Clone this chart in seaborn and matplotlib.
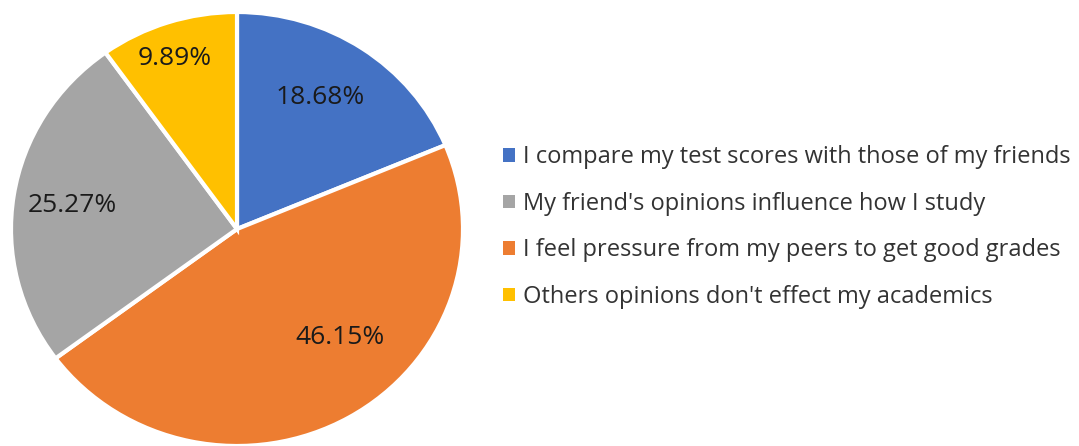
import matplotlib
matplotlib.use("Agg")
import matplotlib.pyplot as plt
from matplotlib.patches import Patch
import seaborn as sns

sns.set_theme(style="white")
plt.rcParams["font.family"] = ["Open Sans", "DejaVu Sans"]

# Survey responses (share of respondents, %)
categories = [
    "I compare my test scores with those of my friends",
    "I feel pressure from my peers to get good grades",
    "My friend's opinions influence how I study",
    "Others opinions don't effect my academics",
]
shares = [18.68, 46.15, 25.27, 9.89]
colors = ["#4472C4", "#ED7D31", "#A5A5A5", "#FFC000"]
legend_order = [0, 2, 1, 3]

W, H = 1079, 446
fig = plt.figure(figsize=(W / 100, H / 100), dpi=100)
fig.patch.set_facecolor("white")

# pie area (slightly wider than tall)
cx, cy, rx, ry = 237, 229, 226, 217
ax = fig.add_axes([(cx - rx) / W, (H - cy - ry) / H, 2 * rx / W, 2 * ry / H])

wedges, _, autotexts = ax.pie(
    shares, colors=colors, startangle=90, counterclock=False,
    autopct="%.2f%%", pctdistance=0.72,
    wedgeprops=dict(edgecolor="white", linewidth=3),
    textprops=dict(fontsize=19, color="#1a1a1a"),
    frame=True,
)
ax.set_xlim(-1, 1)
ax.set_ylim(-1, 1)
ax.set_aspect("auto")
ax.axis("off")

# percentage label placement inside each slice
label_pos = [(0.367, 0.605), (0.456, -0.500), (-0.730, 0.108), (-0.274, 0.785)]
for t, p in zip(autotexts, label_pos):
    t.set_position(p)

handles = [Patch(facecolor=colors[i], edgecolor="none") for i in legend_order]
labels = [categories[i] for i in legend_order]
fig.legend(
    handles, labels, loc="center left", bbox_to_anchor=(503 / W, 1 - 227 / H),
    frameon=False, fontsize=17, labelcolor="#333333",
    handlelength=0.5, handleheight=0.5, handletextpad=0.35,
    labelspacing=0.95, borderpad=0, borderaxespad=0,
)

fig.savefig("out.png", dpi=100, facecolor="white")
